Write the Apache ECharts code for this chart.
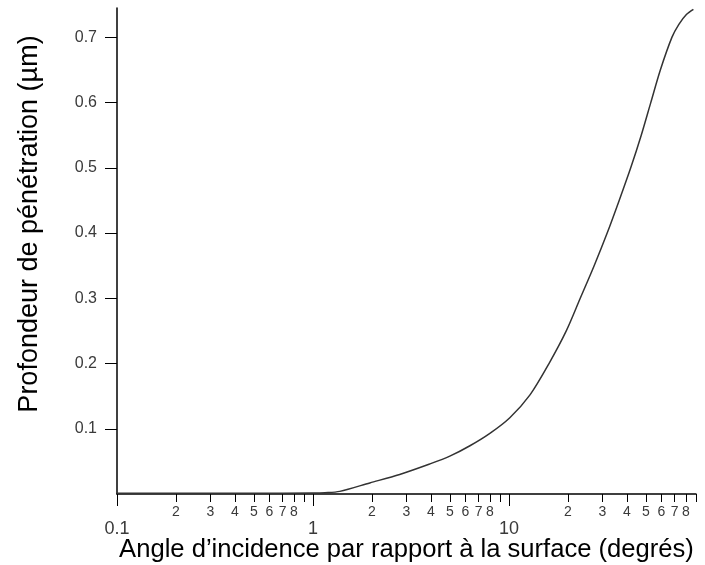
<!DOCTYPE html>
<html>
<head>
<meta charset="utf-8">
<script src="https://cdn.jsdelivr.net/npm/echarts@6/dist/echarts.min.js"></script>
<style>
  html, body { margin: 0; padding: 0; background: #fff; }
  #chart { width: 705px; height: 565px; }
</style>
</head>
<body>
<div id="chart"></div>
<script>
// Incidence angle (degrees, log scale) and penetration depth (µm)
const angles = [0.1, 0.5, 1.0, 1.15, 1.37, 1.95, 2.77, 3.94, 4.99, 6.32, 7.99, 10.1, 12.8, 16.0, 19.6, 23.1, 27.2, 31.7, 36.5, 41.8, 47.3, 52.9, 59.2, 67.8, 73.6, 80.4, 87.3];
const depths = [0.001, 0.001, 0.0015, 0.002, 0.004, 0.017, 0.030, 0.046, 0.058, 0.074, 0.093, 0.117, 0.152, 0.200, 0.250, 0.300, 0.350, 0.400, 0.450, 0.500, 0.550, 0.600, 0.650, 0.700, 0.720, 0.735, 0.743];

// Axis ticks
const majorTicksX = [0.1, 1, 10];
const minorTicksX = [0.2, 0.3, 0.4, 0.5, 0.6, 0.7, 0.8, 0.9,
                     2, 3, 4, 5, 6, 7, 8, 9,
                     20, 30, 40, 50, 60, 70, 80, 90];
const minorLabelsX = [0.2, 0.3, 0.4, 0.5, 0.6, 0.7, 0.8,
                      2, 3, 4, 5, 6, 7, 8,
                      20, 30, 40, 50, 60, 70, 80];
const ticksY = [0.1, 0.2, 0.3, 0.4, 0.5, 0.6, 0.7];

const xTitle = 'Angle d\u2019incidence par rapport à la surface (degrés)';
const yTitle = 'Profondeur de pénétration (µm)';

const font = '"Liberation Sans", Arial, sans-serif';
const points = angles.map((a, i) => [a, depths[i]]);

function leadingDigit(v) {
  const p = Math.pow(10, Math.floor(Math.log10(v) + 1e-9));
  return String(Math.round(v / p));
}

const chart = echarts.init(document.getElementById('chart'), null, { renderer: 'canvas' });
chart.setOption({
  animation: false,
  backgroundColor: '#ffffff',
  grid: { left: 117, right: 9, top: 8, bottom: 71, containLabel: false, outerBoundsMode: 'none' },
  xAxis: [
    {
      type: 'log',
      logBase: 10,
      min: 0.1,
      max: 90,
      position: 'bottom',
      name: xTitle,
      nameLocation: 'middle',
      nameGap: 43,
      nameTextStyle: { fontFamily: font, fontSize: 25.6, color: '#000' },
      axisLine: { show: true, lineStyle: { color: '#000', width: 1.5 } },
      axisTick: { show: true, length: 8, customValues: minorTicksX, lineStyle: { color: '#000', width: 1 } },
      axisLabel: {
        customValues: minorLabelsX,
        formatter: leadingDigit,
        margin: 11,
        fontFamily: font,
        fontSize: 14,
        color: '#3a3a3a'
      },
      splitLine: { show: false },
      minorTick: { show: false }
    },
    {
      type: 'log',
      logBase: 10,
      min: 0.1,
      max: 90,
      position: 'bottom',
      axisLine: { show: false },
      axisTick: { show: true, length: 12, customValues: majorTicksX, lineStyle: { color: '#000', width: 1 } },
      axisLabel: {
        customValues: majorTicksX,
        formatter: v => String(v),
        margin: 26,
        fontFamily: font,
        fontSize: 18,
        color: '#3a3a3a'
      },
      splitLine: { show: false }
    }
  ],
  yAxis: {
    type: 'value',
    min: 0,
    max: 0.745,
    name: yTitle,
    nameLocation: 'middle',
    nameGap: 74,
    nameTextStyle: { fontFamily: font, fontSize: 27, color: '#000', padding: [0, 0, 0, 54] },
    axisLine: { show: true, lineStyle: { color: '#000', width: 1.5 } },
    axisTick: { show: true, length: 12, customValues: ticksY, lineStyle: { color: '#000', width: 1 } },
    axisLabel: {
      customValues: ticksY,
      formatter: v => v.toFixed(1),
      margin: 20,
      fontFamily: font,
      fontSize: 16,
      color: '#3a3a3a'
    },
    splitLine: { show: false }
  },
  series: [
    {
      type: 'line',
      xAxisIndex: 0,
      data: points,
      smooth: 0.3,
      showSymbol: false,
      lineStyle: { color: '#333', width: 1.5 }
    }
  ]
});
</script>
</body>
</html>
